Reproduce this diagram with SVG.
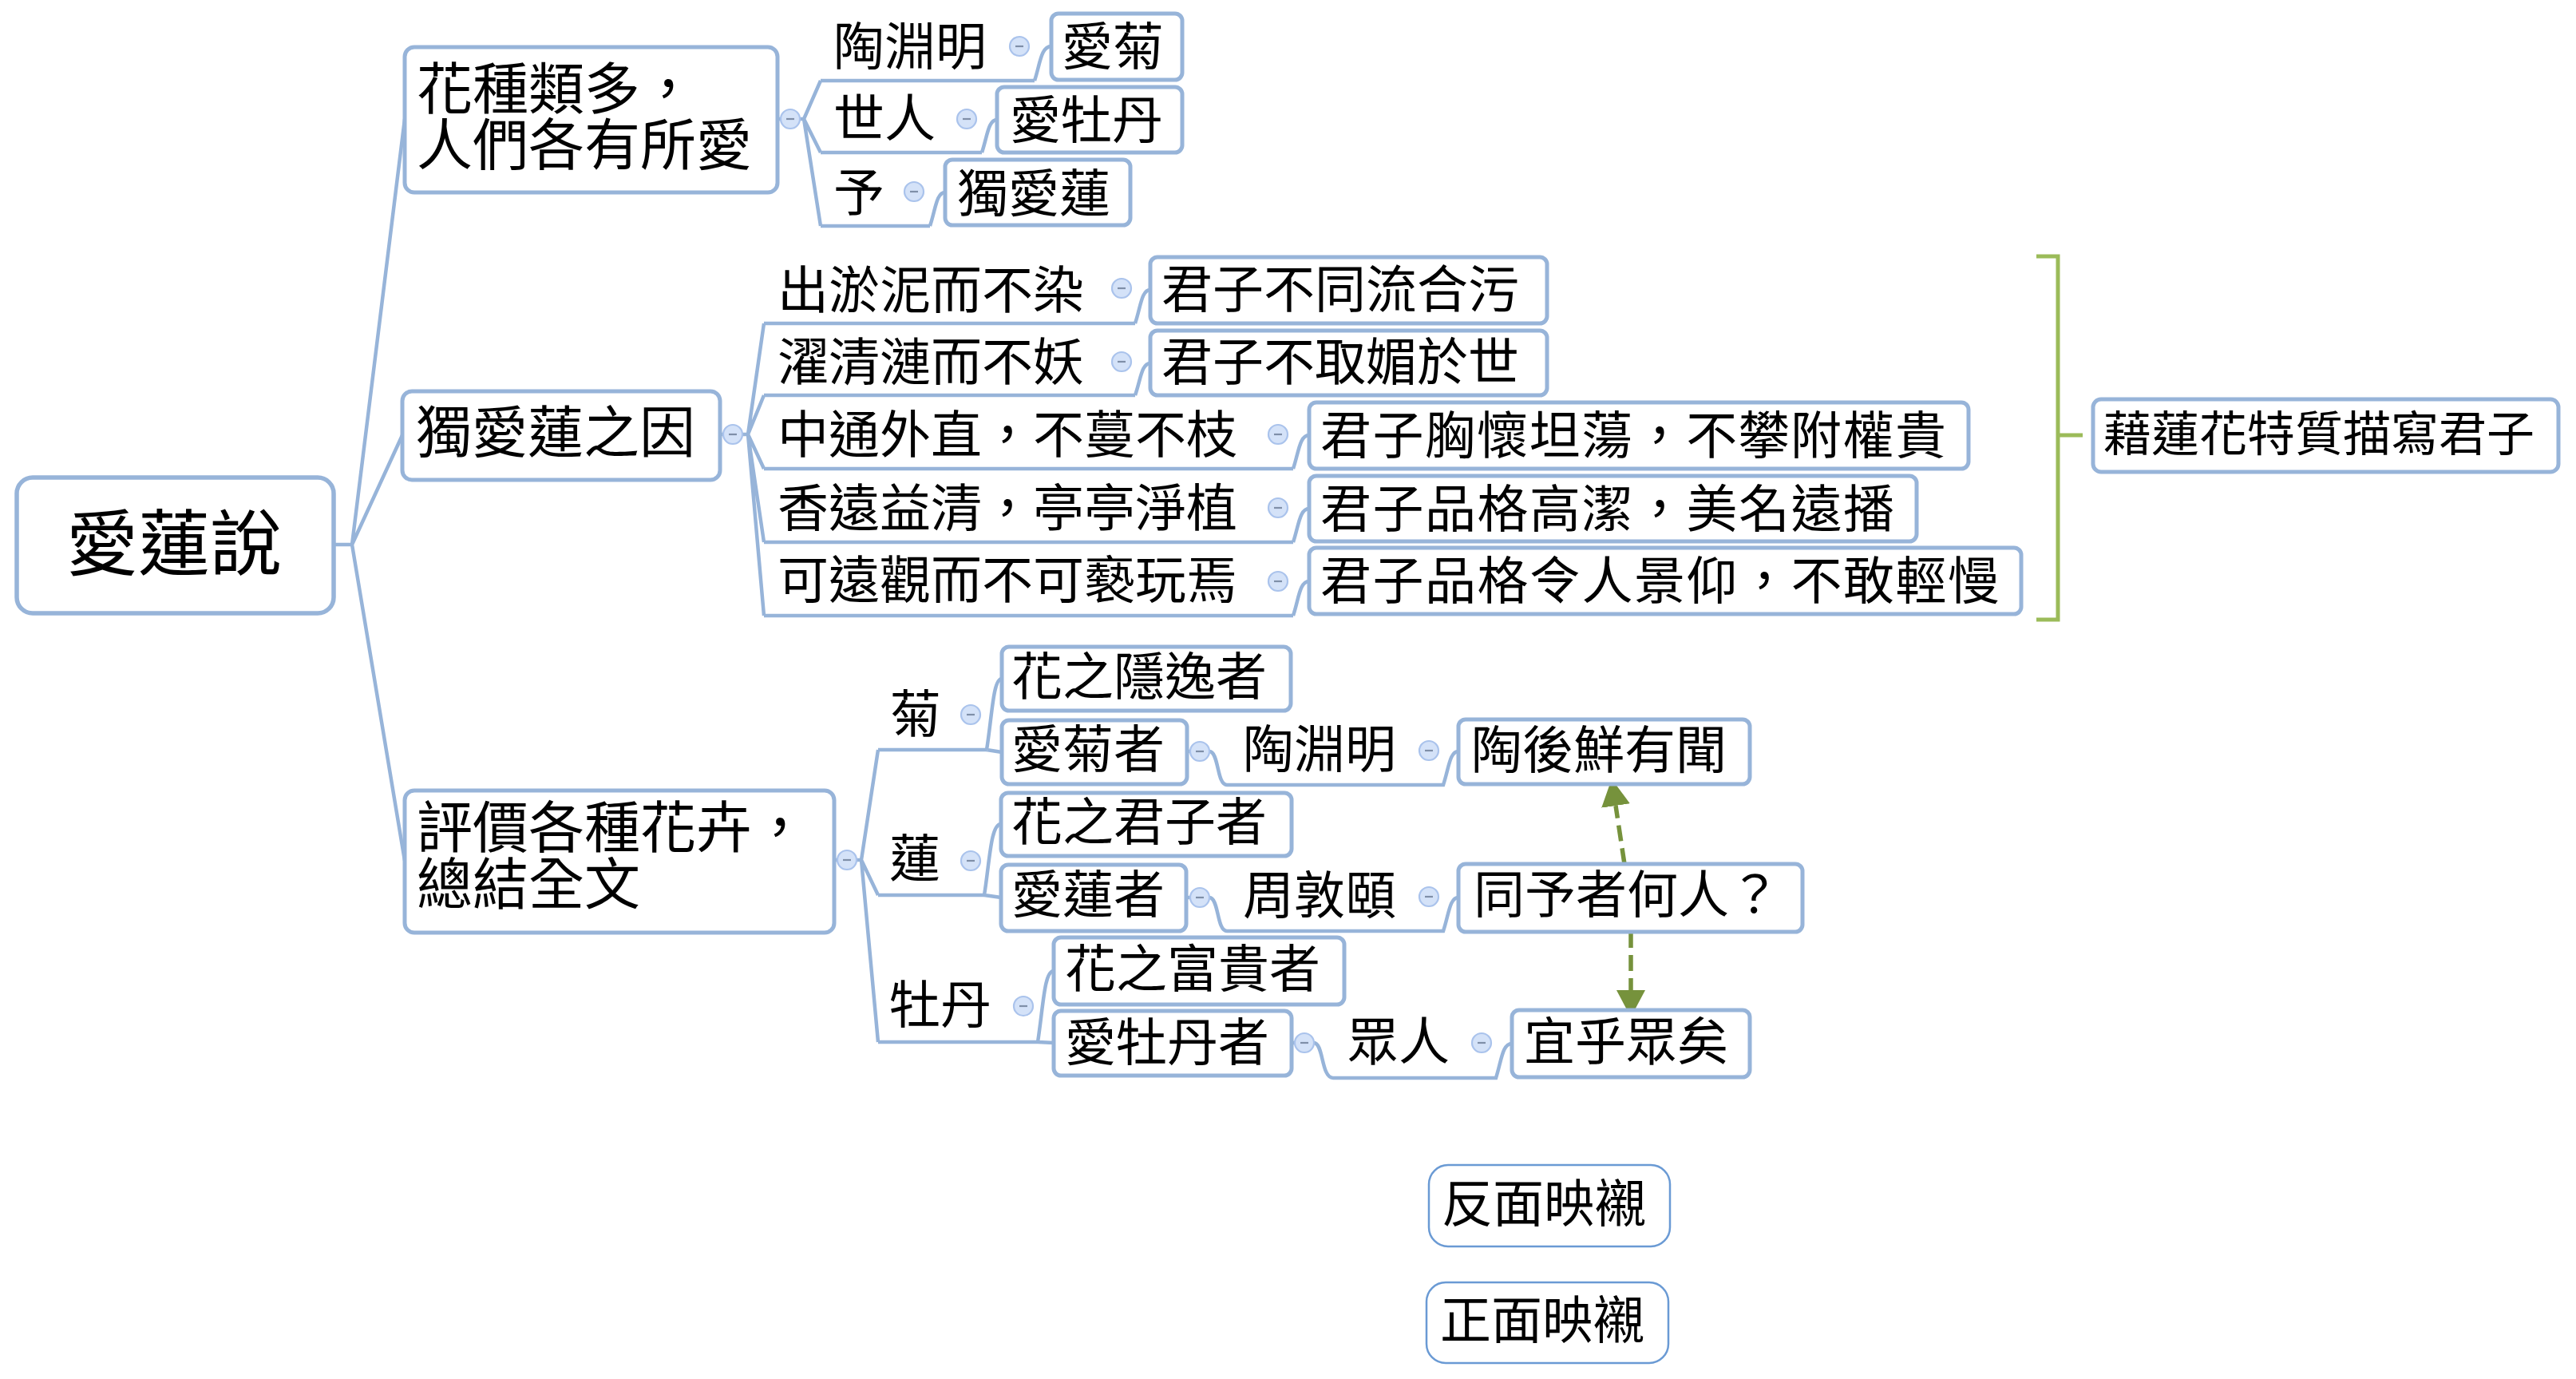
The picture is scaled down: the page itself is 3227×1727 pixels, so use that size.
<svg xmlns="http://www.w3.org/2000/svg" width="3227" height="1727" viewBox="0 0 3227 1727">
<defs>
<style>
text{font-family:"Noto Sans CJK TC","Noto Sans CJK SC",sans-serif;fill:#000}
.f90{font-size:90px}.f70{font-size:70px}.f64{font-size:64px}.f60{font-size:60px}
.box{fill:#fff;stroke:#97B4D9;stroke-width:5}
.leg{fill:#fff;stroke:#6A9AD4;stroke-width:2.5}
.conn{fill:none;stroke:#97B4D9;stroke-width:4.5}
.cb{fill:#D4E2F8;stroke:#AAC3EC;stroke-width:2.2}
.cm{stroke:#7F8FA8;stroke-width:2.2}
.dash{fill:none;stroke:#76923C;stroke-width:5.5;stroke-dasharray:20 9}
.brk{fill:none;stroke:#9BBB59;stroke-width:5}
</style>
<g id="minus"><circle class="cb" r="12"/><line class="cm" x1="-5" y1="0" x2="5" y2="0"/></g>
<marker id="ah" markerUnits="userSpaceOnUse" markerWidth="40" markerHeight="40" refX="0" refY="18" orient="auto">
<path d="M0,0 L34,18 L0,36 z" fill="#76923C"/>
</marker>
</defs>
<rect width="3227" height="1727" fill="#fff"/>

<g id="connectors">
<path class="conn" d="M418,682 H441 M441,682 L507,149 M441,682 L504,545 M441,682 L507,1078"/>
<path class="conn" d="M974,149 H1007 M1007,149 L1028,101 M1007,149 L1028,191 M1007,149 L1028,283 M1028,101 H1296 M1028,191 H1230 M1028,283 H1165"/>
<path class="conn" d="M1296,101 C1303,80 1304,58 1317,58 M1230,191 C1237,170 1238,150 1249,150 M1165,283 C1172,262 1173,241 1184,241"/>
<path class="conn" d="M902,544 H937 M937,544 L957,405 M937,544 L957,495 M937,544 L957,587 M937,544 L957,679 M937,544 L957,771 M957,405 H1422 M957,495 H1422 M957,587 H1620 M957,679 H1620 M957,771 H1620"/>
<path class="conn" d="M1422,405 C1429,384 1430,363 1441,363 M1422,495 C1429,475 1430,455 1441,455 M1620,587 C1627,566 1628,545 1640,545 M1620,679 C1627,658 1628,637 1640,637 M1620,771 C1627,750 1628,728 1640,728"/>
<path class="conn" d="M1045,1077 H1079 M1079,1077 L1100,939 M1079,1077 L1100,1121 M1079,1077 L1100,1305 M1100,939 H1236 M1100,1121 H1233 M1100,1305 H1300"/>
<path class="conn" d="M1236,939 C1243,895 1244,850 1255,850 M1236,939 L1255,942 M1233,1121 C1240,1077 1241,1032 1254,1032 M1233,1121 L1254,1124 M1300,1305 C1307,1260 1308,1216 1320,1216 M1300,1305 L1320,1306"/>
<path class="conn" d="M1487,941 H1515 C1527,941 1524,983 1537,983 H1808 C1815,962 1816,941 1827,941"/>
<path class="conn" d="M1486,1124 H1515 C1527,1124 1524,1166 1537,1166 H1808 C1815,1145 1816,1124 1827,1124"/>
<path class="conn" d="M1618,1306 H1646 C1658,1306 1655,1350 1670,1350 H1874 C1881,1328 1882,1307 1894,1307"/>
<path class="brk" d="M2551,321 H2578 V776 H2551 M2578,545 H2609"/>
<path class="dash" d="M2035,1082 L2024,1009" marker-end="url(#ah)"/>
<path class="dash" d="M2043,1167 L2043,1240" marker-end="url(#ah)"/>
</g>

<g id="root">
<rect class="box" x="21" y="598" width="397" height="170" rx="20" style="stroke-width:5.5"/>
<text class="f90" x="218" y="713" text-anchor="middle">愛蓮說</text>
</g>

<g id="n-huazhong">
<rect class="box" x="507" y="59" width="467" height="182" rx="12"/>
<text class="f70" x="522" y="137">花種類多，<tspan x="522" dy="70">人們各有所愛</tspan></text>
<use href="#minus" x="990" y="149"/>
</g>
<g id="n-taoyuanming"><text class="f64" x="1044" y="81">陶淵明</text><use href="#minus" x="1277" y="58"/></g>
<g id="n-aiju"><rect class="box" x="1317" y="17" width="164" height="83" rx="9"/><text class="f64" x="1330" y="81">愛菊</text></g>
<g id="n-shiren"><text class="f64" x="1044" y="171">世人</text><use href="#minus" x="1211" y="149"/></g>
<g id="n-aimudan"><rect class="box" x="1249" y="109" width="232" height="82" rx="9"/><text class="f64" x="1265" y="173">愛牡丹</text></g>
<g id="n-yu"><text class="f64" x="1044" y="264">予</text><use href="#minus" x="1145" y="240"/></g>
<g id="n-duailian"><rect class="box" x="1184" y="200" width="232" height="82" rx="9"/><text class="f64" x="1199" y="265">獨愛蓮</text></g>

<g id="n-yin">
<rect class="box" x="504" y="490" width="398" height="111" rx="12"/>
<text class="f70" x="521" y="567">獨愛蓮之因</text>
<use href="#minus" x="918" y="544"/>
</g>
<g id="n-r1"><text class="f64" x="974" y="386">出淤泥而不染</text><use href="#minus" x="1405" y="361"/></g>
<g id="n-r1b"><rect class="box" x="1441" y="322" width="497" height="83" rx="9"/><text class="f64" x="1455" y="385">君子不同流合污</text></g>
<g id="n-r2"><text class="f64" x="974" y="476">濯清漣而不妖</text><use href="#minus" x="1405" y="453"/></g>
<g id="n-r2b"><rect class="box" x="1441" y="414" width="497" height="81" rx="9"/><text class="f64" x="1455" y="476">君子不取媚於世</text></g>
<g id="n-r3"><text class="f64" x="974" y="567">中通外直，不蔓不枝</text><use href="#minus" x="1601" y="544"/></g>
<g id="n-r3b"><rect class="box" x="1640" y="504" width="826" height="83" rx="9"/><text class="f64" x="1654" y="568" textLength="784" lengthAdjust="spacing">君子胸懷坦蕩，不攀附權貴</text></g>
<g id="n-r4"><text class="f64" x="974" y="659">香遠益清，亭亭淨植</text><use href="#minus" x="1601" y="636"/></g>
<g id="n-r4b"><rect class="box" x="1640" y="596" width="761" height="82" rx="9"/><text class="f64" x="1654" y="660" textLength="719" lengthAdjust="spacing">君子品格高潔，美名遠播</text></g>
<g id="n-r5"><text class="f64" x="974" y="749">可遠觀而不可褻玩焉</text><use href="#minus" x="1601" y="728"/></g>
<g id="n-r5b"><rect class="box" x="1640" y="686" width="892" height="83" rx="9"/><text class="f64" x="1654" y="750" textLength="850" lengthAdjust="spacing">君子品格令人景仰，不敢輕慢</text></g>
<g id="n-summary"><rect class="box" x="2622" y="500" width="583" height="91" rx="10"/><text class="f60" x="2635" y="565">藉蓮花特質描寫君子</text></g>

<g id="n-pingjia">
<rect class="box" x="507" y="990" width="538" height="178" rx="12"/>
<text class="f70" x="522" y="1062">評價各種花卉，<tspan x="522" dy="71">總結全文</tspan></text>
<use href="#minus" x="1061" y="1077"/>
</g>
<g id="n-ju"><text class="f64" x="1115" y="917">菊</text><use href="#minus" x="1216" y="895"/></g>
<g id="n-ju1"><rect class="box" x="1255" y="810" width="362" height="80" rx="9"/><text class="f64" x="1267" y="870">花之隱逸者</text></g>
<g id="n-ju2"><rect class="box" x="1255" y="902" width="232" height="80" rx="9"/><text class="f64" x="1267" y="961">愛菊者</text><use href="#minus" x="1503" y="941"/></g>
<g id="n-ju3"><text class="f64" x="1557" y="961">陶淵明</text><use href="#minus" x="1790" y="940"/></g>
<g id="n-ju4"><rect class="box" x="1827" y="901" width="365" height="81" rx="9"/><text class="f64" x="1843" y="962">陶後鮮有聞</text></g>

<g id="n-lian"><text class="f64" x="1114" y="1098">蓮</text><use href="#minus" x="1216" y="1078"/></g>
<g id="n-lian1"><rect class="box" x="1254" y="993" width="364" height="79" rx="9"/><text class="f64" x="1267" y="1052">花之君子者</text></g>
<g id="n-lian2"><rect class="box" x="1254" y="1083" width="232" height="83" rx="9"/><text class="f64" x="1267" y="1143">愛蓮者</text><use href="#minus" x="1503" y="1124"/></g>
<g id="n-lian3"><text class="f64" x="1557" y="1144">周敦頤</text><use href="#minus" x="1790" y="1123"/></g>
<g id="n-lian4"><rect class="box" x="1827" y="1082" width="431" height="85" rx="9"/><text class="f64" x="1846" y="1143">同予者何人？</text></g>

<g id="n-mudan"><text class="f64" x="1114" y="1281">牡丹</text><use href="#minus" x="1282" y="1260"/></g>
<g id="n-mudan1"><rect class="box" x="1320" y="1174" width="364" height="84" rx="9"/><text class="f64" x="1334" y="1236">花之富貴者</text></g>
<g id="n-mudan2"><rect class="box" x="1320" y="1266" width="298" height="81" rx="9"/><text class="f64" x="1334" y="1328">愛牡丹者</text><use href="#minus" x="1634" y="1306"/></g>
<g id="n-mudan3"><text class="f64" x="1688" y="1327">眾人</text><use href="#minus" x="1856" y="1306"/></g>
<g id="n-mudan4"><rect class="box" x="1894" y="1265" width="298" height="84" rx="9"/><text class="f64" x="1909" y="1327">宜乎眾矣</text></g>

<g id="legend-fan"><rect class="leg" x="1790" y="1459" width="302" height="102" rx="24"/><text class="f64" x="1806" y="1530">反面映襯</text></g>
<g id="legend-zheng"><rect class="leg" x="1787" y="1606" width="303" height="101" rx="24"/><text class="f64" x="1804" y="1676">正面映襯</text></g>
</svg>
